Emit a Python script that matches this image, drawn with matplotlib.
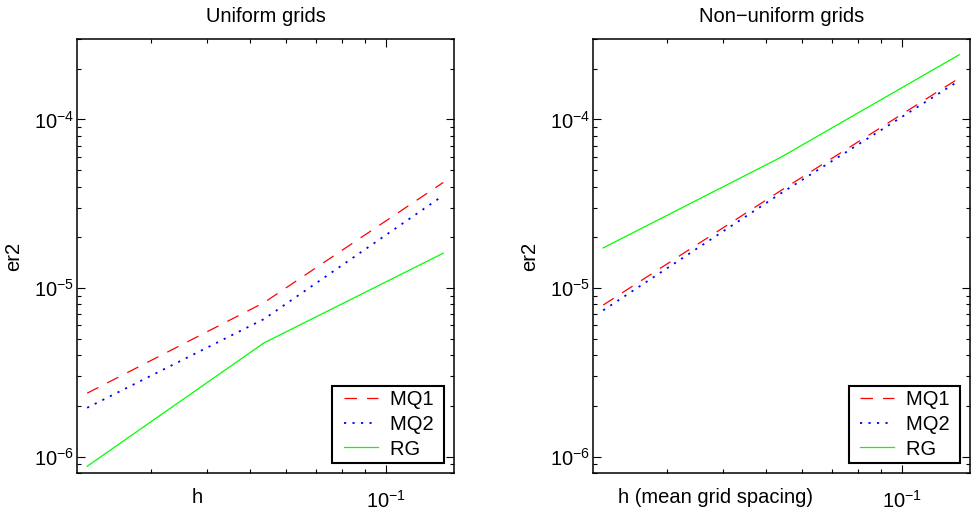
#!/usr/bin/env python3

import matplotlib
matplotlib.use("Agg")
from matplotlib import pyplot as plt
from matplotlib.ticker import LogLocator, NullFormatter, FixedLocator
from matplotlib.legend_handler import HandlerLine2D
import numpy as np

plt.rcParams['font.family'] = ['Liberation Sans', 'DejaVu Sans']
plt.rcParams['mathtext.default'] = 'regular'
plt.rcParams['font.size'] = 14.5

# grid spacing h (same for both panels)
h = [0.0217, 0.0536, 0.134]

# uniform grids
uni_mq1 = [2.38e-6, 8.2e-6, 4.23e-5]
uni_mq2 = [1.95e-6, 6.55e-6, 3.54e-5]
uni_rg = [8.77e-7, 4.73e-6, 1.61e-5]

# non-uniform grids
non_mq1 = [7.93e-6, 3.76e-5, 1.76e-4]
non_mq2 = [7.38e-6, 3.62e-5, 1.70e-4]
non_rg = [1.73e-5, 5.93e-5, 2.42e-4]

labels = ['MQ1', 'MQ2', 'RG']
titles = ['Uniform grids', 'Non\u2212uniform grids']
xlabels = ['h', 'h (mean grid spacing)']

fig = plt.figure(figsize=(9.72, 5.16), dpi=100)
ax1 = fig.add_axes([0.0792, 0.0833, 0.3879, 0.8411])
ax2 = fig.add_axes([0.6101, 0.0833, 0.3879, 0.8411])

def draw_panel(ax, mq1, mq2, rg, title, xlabel):
	ax.loglog(h, mq1, color=(1, 0, 0), lw=0.9, linestyle=(0, (10, 8)), label=labels[0] + ' ')
	ax.loglog(h, mq2, color=(0, 0, 1), lw=1.3, linestyle=(0, (1.2, 3.5)), label=labels[1] + ' ')
	ax.loglog(h, rg, color=(0, 1, 0), lw=0.9, label=labels[2] + ' ')

	ax.set_xlim(0.0206, 0.1416)
	ax.set_ylim(8e-7, 3e-4)

	# MATLAB-ish ticks: inside, on all four sides
	ax.xaxis.set_major_locator(FixedLocator([0.1]))
	ax.xaxis.set_minor_locator(LogLocator(base=10, subs=np.arange(2, 10)))
	ax.xaxis.set_minor_formatter(NullFormatter())
	ax.yaxis.set_major_locator(LogLocator(base=10, numticks=10))
	ax.yaxis.set_minor_locator(LogLocator(base=10, subs=np.arange(2, 10), numticks=10))
	ax.yaxis.set_minor_formatter(NullFormatter())
	ax.tick_params(which='both', direction='in', top=True, right=True, width=0.8)
	ax.tick_params(which='major', length=6)
	ax.tick_params(which='minor', length=3)
	ax.tick_params(axis='x', which='major', pad=12)
	ax.tick_params(axis='y', which='major', pad=2)
	for s in ax.spines.values():
		s.set_linewidth(1.1)

	ax.set_title(title, fontsize=14.5, pad=12)
	ax.set_ylabel('er2')
	ax.set_xlabel(xlabel)

	# legend lines start a bit in from the box edge, like matlab
	leg = ax.legend(loc='lower right', fancybox=False, framealpha=1, edgecolor='black',
		handlelength=2.05, handletextpad=0.6, labelspacing=0.28, borderpad=0.22,
		borderaxespad=0.5, handler_map={matplotlib.lines.Line2D: HandlerLine2D(xpad=0.35)})
	leg.get_frame().set_linewidth(1.5)

draw_panel(ax1, uni_mq1, uni_mq2, uni_rg, titles[0], xlabels[0])
draw_panel(ax2, non_mq1, non_mq2, non_rg, titles[1], xlabels[1])

# x labels sit left of centre, next to the 10^-1 tick label
ax1.xaxis.set_label_coords(0.32, -0.034)
ax2.xaxis.set_label_coords(0.325, -0.034)
ax1.yaxis.set_label_coords(-0.143, 0.5)
ax2.yaxis.set_label_coords(-0.143, 0.5)

fig.savefig('out.png', dpi=100)
